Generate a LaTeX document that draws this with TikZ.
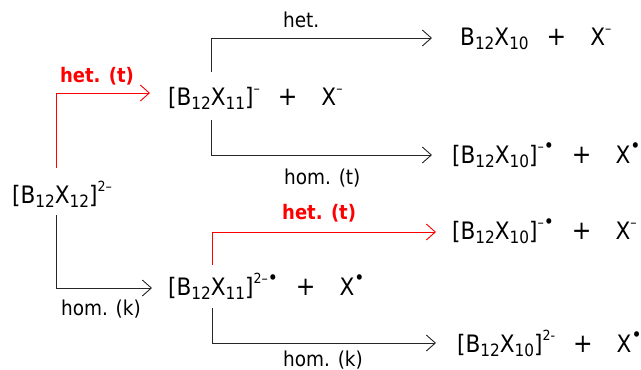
\documentclass[tikz,border=0pt]{standalone}
\usepackage{fontspec}
\setmainfont{DejaVu Sans Condensed}
\usetikzlibrary{arrows.meta}
\newcommand\sbs[1]{\raisebox{-0.2em}{\fontsize{17}{17}\selectfont #1}}
\newcommand\sps[1]{\raisebox{0.5em}{\fontsize{14}{14}\selectfont #1}}
\newcommand\rad{\raisebox{-0.12em}{\fontsize{19}{19}\selectfont •}}
\newcommand\pls{\hspace{0.75em}{\fontsize{26}{26}\selectfont +}\hspace{1.0em}}
\begin{document}
\begin{tikzpicture}[x=1pt,y=-1pt,
  chem/.style={anchor=base west,inner sep=0pt,font=\fontsize{24}{24}\selectfont},
  lbl/.style={inner sep=0pt,font=\fontsize{20.5}{20.5}\selectfont},
  rlbl/.style={lbl,text=red,font=\fontsize{20}{20}\selectfont\bfseries},
  arr/.style={line width=0.9pt,-{Straight Barb[length=9pt,width=16pt,line width=0.9pt]}},
  blk/.style={arr,draw=black!85},
  rd/.style={arr,draw=red}]
\useasboundingbox (0,0) rectangle (641,370);
\node[chem] (n0) at (12,203) {[B\sbs{12}X\sbs{12}]\sps{2–}};
\node[chem] (n1) at (168,105) {[B\sbs{12}X\sbs{11}]\sps{–}\pls X\sps{–}};
\node[chem] (n2) at (460,45) {B\sbs{12}X\sbs{10}\pls X\sps{–}};
\node[chem] (n3) at (452,163) {[B\sbs{12}X\sbs{10}]\sps{–\rad}\pls X\sps{\rad}};
\node[chem] (n4) at (168,295) {[B\sbs{12}X\sbs{11}]\sps{2–\rad}\pls X\sps{\rad}};
\node[chem] (n5) at (452,239) {[B\sbs{12}X\sbs{10}]\sps{–\rad}\pls X\sps{–}};
\node[chem] (n6) at (457,352) {[B\sbs{12}X\sbs{10}]\sps{2-}\pls X\sps{\rad}};
% corners
\coordinate (c1) at (56,168);
\coordinate (c2) at (56,215);
\coordinate (c3) at (211,72);
\coordinate (c4) at (211,120);
\coordinate (c5) at (212,265);
\coordinate (c6) at (212,308);
\coordinate (e1) at (150,93);
\coordinate (e2) at (152,288);
\coordinate (e3) at (432,38);
\coordinate (e4) at (432,155);
\coordinate (e5) at (436,232);
\coordinate (e6) at (436,343);
\draw[rd] (c1) |- (e1);
\draw[blk] (c2) |- (e2);
\draw[blk] (c3) |- (e3);
\draw[blk] (c4) |- (e4);
\draw[rd] (c5) |- (e5);
\draw[blk] (c6) |- (e6);
\node[rlbl] (l1) at (97,76) {het. (t)};
\node[lbl,anchor=base west] (l2) at (283,27) {het.};
\node[lbl,anchor=base west] (l3) at (284,184) {hom. (t)};
\node[lbl] (l4) at (101,309) {hom. (k)};
\node[rlbl,anchor=base west] (l5) at (282,219) {het. (t)};
\node[lbl,anchor=base west] (l6) at (283,366) {hom. (k)};
\end{tikzpicture}
\end{document}
